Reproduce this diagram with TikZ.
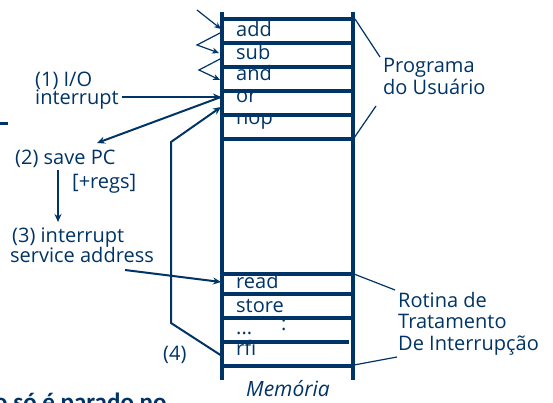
\documentclass[tikz,border=0pt]{standalone}
\usepackage{fontspec}
\setmainfont{Open Sans}
\newfontfamily\slidefont{Carlito}
\usetikzlibrary{
  arrows.meta,  % Stealth arrow tips
  calc,         % coordinate calculations
  positioning   % relative placement
}
\definecolor{memblue}{RGB}{0,51,102}
\tikzset{
  mem line/.style={
    draw=memblue,
    line width=3.5pt
  },
  flow arrow/.style={
    draw=memblue,
    -{Stealth[length=8pt,width=7pt]},
    line width=2pt
  },
  hop arrow/.style={
    draw=memblue,
    -{Stealth[length=7pt,width=6pt]},
    line width=1.2pt
  },
  leader/.style={
    draw=memblue,
    line width=1.2pt
  },
  instr/.style={
    anchor=base west,
    inner sep=0pt,
    text=memblue,
    font=\fontsize{20}{22}\selectfont
  },
  note/.style={
    anchor=base west,
    inner sep=0pt,
    text=memblue,
    font=\fontsize{20}{22}\selectfont
  }
}

\begin{document}
\begin{tikzpicture}[x=1pt, y=-1pt]
  \useasboundingbox (0,0) rectangle (553,403);

  % ======================= memory column =======================
  \draw[mem line] (222,12) -- (222,380);
  \draw[mem line] (353,12) -- (353,380);
  \foreach \y in {19,43,67,91,115,139,274,294,318,366}
    \draw[mem line] (222,\y) -- (353,\y);
  \draw[mem line] (222,342) -- (349,342);

  % instructions of the user program
  \node[instr] (add) at (236,37)  {add};
  \node[instr] (sub) at (236,60)  {sub};
  \node[instr] (and) at (236,81)  {and};
  \node[instr] (or)  at (236,103) {or};
  \node[instr] (nop) at (236,125) {nop};

  % instructions of the handler
  \node[instr] (read)  at (236,288) {read};
  \node[instr] (store) at (236,312) {store};
  \node[instr] (dots)  at (236,334) {...};
  \node[instr] (vdots) at (281,330) {:};
  \node[instr] (rfi)   at (236,355) {rfi};

  \node[instr, font=\fontsize{21}{24}\selectfont\itshape] (mem) at (246,396) {Memória};

  % entry points on the left edge of the memory
  \coordinate (addin) at (221,29);
  \coordinate (subin) at (219,53);
  \coordinate (andin) at (220,80);
  \coordinate (orin)  at (221,97);
  \coordinate (nopin) at (221,107);
  \coordinate (readin) at (221,282);
  \coordinate (rfiout) at (222,356);

  % ======================= sequential flow =======================
  \draw[hop arrow] (197,10) -- (addin);
  \draw[hop arrow] (220,33) -- (197,45) -- (subin);
  \draw[hop arrow] (220,59) -- (199,70) -- (andin);

  % ======================= interrupt steps =======================
  \node[note] (io)   at (35,87)  {(1) I/O};
  \node[note] (intr) at (35,105) {interrupt};
  \node[note] (save) at (15,165) {(2) save PC};
  \node[note] (regs) at (72,189) {[+regs]};
  \node[note] (isr)  at (12,242) {(3) interrupt};
  \node[note] (addr) at (10,262) {service address};
  \node[note] (ret)  at (163,360) {(4)};

  \coordinate (intrend) at (122,97);
  \coordinate (savein)  at (97,143);
  \coordinate (savedn)  at (58,170);
  \coordinate (isrin)   at (58,222);
  \coordinate (addrend) at (125,270);

  \draw[flow arrow] (intrend) -- (orin);
  \draw[flow arrow] (orin) -- (savein);
  \draw[flow arrow] (savedn) -- (isrin);
  \draw[flow arrow] (addrend) -- (readin);
  \draw[flow arrow] (rfiout) -- (171,323) -- (171,142) -- (nopin);

  % ======================= braces of the two blocks =======================
  \node[note] (prog) at (383,73) {Programa};
  \node[note] (user) at (383,95) {do Usuário};
  \draw[leader] (355,19) -- (380,57);
  \draw[leader] (376,106) -- (354,138);

  \node[note] (rot)   at (398,307) {Rotina de};
  \node[note] (trat)  at (398,328) {Tratamento};
  \node[note] (inter) at (398,350) {De Interrupção};
  \draw[leader] (354,274) -- (395,290);
  \draw[leader] (354,365) -- (397,357);

  % ======================= slide fragments =======================
  \draw[memblue, line width=3pt] (0,124) -- (8,124);
  \begin{scope}
    \clip (0,0) rectangle (553,403);
    \node[anchor=base west, inner sep=0pt, text=memblue,
          font=\slidefont\bfseries\fontsize{25}{27}\selectfont] (tail) at (-6,410) {o só é parado no};
  \end{scope}
\end{tikzpicture}
\end{document}
